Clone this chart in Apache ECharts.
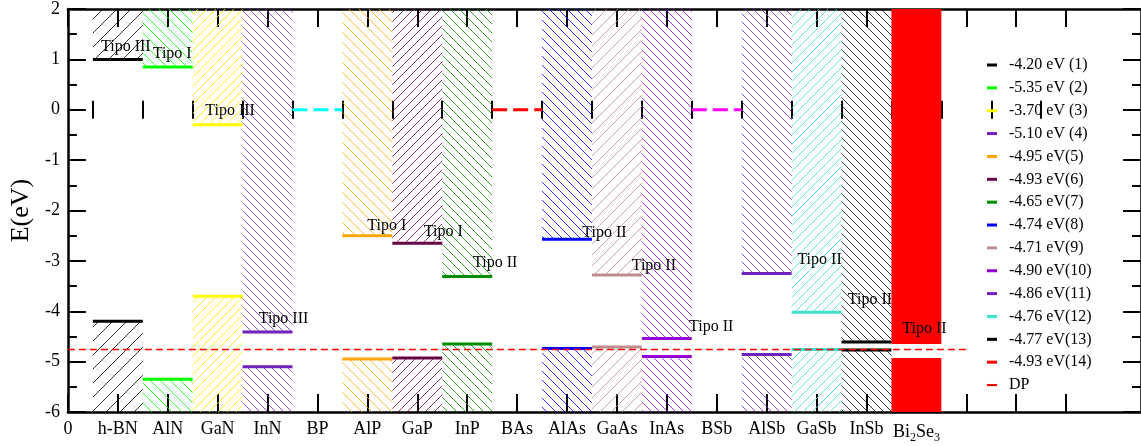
<!DOCTYPE html>
<html><head><meta charset="utf-8">
<script src="https://cdn.jsdelivr.net/npm/echarts@6/dist/echarts.min.js"></script>
<style>html,body{margin:0;padding:0;background:#fff}#c{width:1141px;height:446px}</style>
</head><body><div id="c"></div>
<script>
// ---------- data ----------
const categories = ['h-BN','AlN','GaN','InN','BP','AlP','GaP','InP','BAs','AlAs','GaAs','InAs','BSb','AlSb','GaSb','InSb','Bi2Se3'];
const cbm = [1.00, 0.85, -0.30, -4.41, null, -2.50, -2.65, -3.31, null, -2.57, -3.28, -4.54, null, -3.25, -4.02, -4.61, -4.65];
const vbm = [-4.20, -5.35, -3.70, -5.10, null, -4.95, -4.93, -4.65, null, -4.74, -4.71, -4.90, null, -4.86, -4.76, -4.77, -4.93];
const neutralLevels = [null, null, null, null, 0, null, null, null, 0, null, null, null, 0, null, null, null, null];
const legendLabels = ['-4.20 eV (1)','-5.35 eV (2)','-3.70 eV (3)','-5.10 eV (4)','-4.95 eV(5)','-4.93 eV(6)','-4.65 eV(7)','-4.74 eV(8)','-4.71 eV(9)','-4.90 eV(10)','-4.86 eV(11)','-4.76 eV(12)','-4.77 eV(13)','-4.93 eV(14)'];
const dpValue = -4.76;
const dpRange = [0, 18];
const tipoText = ['Tipo III','Tipo I','Tipo III','Tipo III','Tipo I','Tipo I','Tipo II','Tipo II','Tipo II','Tipo II','Tipo II','Tipo II','Tipo II'];
const tipoX = [1.16, 2.09, 3.25, 4.32, 6.39, 7.52, 8.56, 10.75, 11.74, 12.89, 15.06, 16.07, 17.16];
const tipoY = [1.24, 1.11, -0.02, -4.14, -2.31, -2.42, -3.04, -2.45, -3.10, -4.31, -2.98, -3.77, -4.34];
const yTicks = {min: -6, max: 2, step: 1};

// ---------- styles ----------
const colors = ['#000000','#00ff00','#ffff00','#7221bc','#00ffff','#ffa500','#670748','#008b00','#ff0000','#0000ff','#bc8f8f','#9400d3','#ff00ff','#7221bc','#40e0d0','#000000','#ff0000'];
const hatchGap = [14,10,9,8,0,10,9,9,0,9,11,8,0,8,9,8,0];
const solidFill = [false,false,false,false,false,false,false,false,false,false,false,false,false,false,false,false,true];
const FONT = 'Liberation Serif';

function hatch(color, gap, forward) {
  const c = document.createElement('canvas');
  c.width = gap; c.height = gap;
  const g = c.getContext('2d');
  g.strokeStyle = color; g.lineWidth = 1; g.globalAlpha = 0.8;
  g.beginPath();
  if (forward) { // "/"
    g.moveTo(-1, gap + 1); g.lineTo(gap + 1, -1);
    g.moveTo(-1, 1); g.lineTo(1, -1);
    g.moveTo(gap - 1, gap + 1); g.lineTo(gap + 1, gap - 1);
  } else {       // "\"
    g.moveTo(-1, -1); g.lineTo(gap + 1, gap + 1);
    g.moveTo(gap - 1, -1); g.lineTo(gap + 1, 1);
    g.moveTo(-1, gap - 1); g.lineTo(1, gap + 1);
  }
  g.stroke();
  return c;
}

const series = [];
let k = 0;
categories.forEach((name, i) => {
  if (cbm[i] == null) return;
  const pos = i + 1;
  const color = colors[i];
  const fill = solidFill[i] ? color : {image: hatch(color, hatchGap[i], pos % 2 === 1), repeat: 'repeat'};
  const solid = solidFill[i];
  series.push({
    type: 'custom', name: legendLabels[k++], xAxisIndex: 0, yAxisIndex: 0, z: 2,
    itemStyle: {color: color}, silent: true,
    data: [[pos, cbm[i], vbm[i]]],
    renderItem: function (params, api) {
      const cs = params.coordSys;
      const x = api.value(0);
      const x0 = api.coord([x - 0.5, 0])[0];
      const x1 = api.coord([x + 0.5, 0])[0];
      const yc = api.coord([0, api.value(1)])[1];
      const yv = api.coord([0, api.value(2)])[1];
      const ch = [
        {type: 'rect', shape: {x: x0, y: cs.y, width: x1 - x0, height: yc - cs.y}, style: {fill: fill}},
        {type: 'rect', shape: {x: x0, y: yv, width: x1 - x0, height: cs.y + cs.height - yv}, style: {fill: fill}}
      ];
      if (!solid) {
        ch.push({type: 'line', z2: 5, shape: {x1: x0, y1: yc, x2: x1, y2: yc}, style: {stroke: color, lineWidth: 3}});
        ch.push({type: 'line', z2: 5, shape: {x1: x0, y1: yv, x2: x1, y2: yv}, style: {stroke: color, lineWidth: 3}});
      }
      return {type: 'group', children: ch};
    }
  });
});

// neutral (dashed) levels for BP, BAs, BSb
series.push({
  type: 'custom', name: 'neutral', z: 3, silent: true,
  data: neutralLevels.map((v, i) => v == null ? null : [i + 1, v, i]).filter(d => d),
  renderItem: function (params, api) {
    const x = api.value(0);
    const p0 = api.coord([x - 0.5, api.value(1)]);
    const p1 = api.coord([x + 0.5, api.value(1)]);
    return {type: 'line', shape: {x1: p0[0], y1: p0[1], x2: p1[0], y2: p1[1]},
      style: {stroke: colors[api.value(2)], lineWidth: 3, lineDash: [15, 6]}};
  }
});

// DP line
series.push({
  type: 'line', name: 'DP', z: 4, silent: true, symbol: 'none',
  itemStyle: {color: '#ff0000'},
  lineStyle: {color: '#ff0000', width: 1.5, type: [7, 4]},
  data: [[dpRange[0], dpValue], [dpRange[1], dpValue]]
});

// Tipo labels
series.push({
  type: 'custom', name: 'tipo', z: 6, silent: true,
  data: tipoText.map((t, i) => [tipoX[i], tipoY[i], i]),
  renderItem: function (params, api) {
    const p = api.coord([api.value(0), api.value(1)]);
    return {type: 'text', x: p[0], y: p[1],
      style: {text: tipoText[api.value(2)], fontFamily: FONT, fontSize: 16, fill: '#000', align: 'center', verticalAlign: 'middle'}};
  }
});

const majors = Array.from({length: 21}, (_, i) => i);
const minors = Array.from({length: 20}, (_, i) => i + 0.5);
const labelVals = Array.from({length: categories.length + 1}, (_, i) => i);

const axisLine = {show: true, onZero: false, lineStyle: {color: '#000', width: 2.5}};
const xBase = {type: 'value', min: 0, max: 21.5, splitLine: {show: false}};
const xAxes = [
  Object.assign({}, xBase, {position: 'bottom', axisLine: axisLine,
    axisTick: {show: true, inside: true, length: 18, customValues: majors, lineStyle: {color: '#000', width: 2}},
    axisLabel: {show: true, customValues: labelVals, margin: 8, color: '#000', fontFamily: FONT, fontSize: 18,
      formatter: function (v) {
        if (v === 0) return '0';
        const n = categories[v - 1];
        if (n === 'Bi2Se3') return 'Bi{s|2}Se{s|3}';
        return n || '';
      },
      rich: {s: {fontFamily: FONT, fontSize: 12, color: '#000', padding: [12, 0, 0, 0]}}
    }}),
  Object.assign({}, xBase, {position: 'bottom', axisLine: {show: false},
    axisTick: {show: true, inside: true, length: 9, customValues: minors, lineStyle: {color: '#000', width: 2}},
    axisLabel: {show: false}}),
  Object.assign({}, xBase, {position: 'top', axisLine: axisLine,
    axisTick: {show: true, inside: true, length: 18, customValues: majors, lineStyle: {color: '#000', width: 2}},
    axisLabel: {show: false}}),
  Object.assign({}, xBase, {position: 'top', axisLine: {show: false},
    axisTick: {show: true, inside: true, length: 9, customValues: minors, lineStyle: {color: '#000', width: 2}},
    axisLabel: {show: false}})
];
const yBase = {type: 'value', min: yTicks.min, max: yTicks.max, interval: yTicks.step, splitLine: {show: false},
  axisLine: axisLine,
  axisTick: {show: true, inside: true, length: 18, lineStyle: {color: '#000', width: 2}},
  minorTick: {show: true, splitNumber: 2, length: 9, lineStyle: {color: '#000', width: 2}}};
const yAxes = [
  Object.assign({}, yBase, {position: 'left', name: 'E(eV)', nameLocation: 'middle', nameGap: 26,
    nameTextStyle: {fontFamily: FONT, fontSize: 26, color: '#000'},
    axisLabel: {color: '#000', fontFamily: FONT, fontSize: 18, margin: 8}}),
  Object.assign({}, yBase, {position: 'right', axisLabel: {show: false}})
];

const legendData = legendLabels.map(n => ({name: n, icon: 'rect'}));
legendData.push({name: 'DP', icon: 'path://M0,0H7V1.5H0Z'});

const chart = echarts.init(document.getElementById('c'), null, {renderer: 'canvas'});
chart.setOption({
  animation: false,
  backgroundColor: '#fff',
  grid: {left: 66, right: 0, top: 7, bottom: 34},
  xAxis: xAxes,
  yAxis: yAxes,
  legend: {
    orient: 'vertical', left: 982, top: 52, itemWidth: 10, itemHeight: 3, itemGap: 6.86,
    selectedMode: false, data: legendData,
    textStyle: {fontFamily: FONT, fontSize: 16, color: '#000', lineHeight: 16, padding: [0, 0, 0, 7]}
  },
  series: series
});
</script></body></html>
